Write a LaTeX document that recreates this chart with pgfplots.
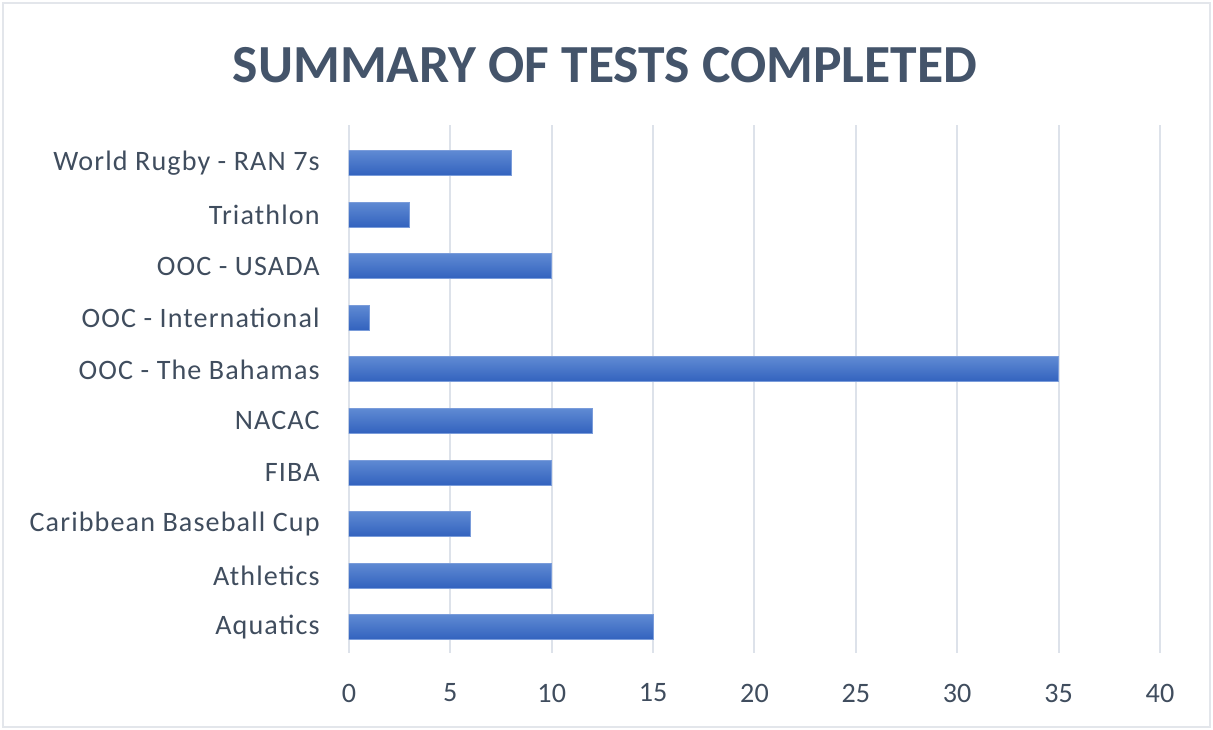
\documentclass[border=0pt]{standalone}
\usepackage{pgfplots}
\pgfplotsset{compat=1.18}
\usepackage{fontspec}
\setmainfont{Carlito}
\newfontfamily\labfont[LetterSpace=4]{Carlito}
\definecolor{titlecol}{HTML}{44546A}
\definecolor{labcol}{HTML}{404D5E}
\definecolor{gridcol}{HTML}{DDE2EA}
\definecolor{bartop}{HTML}{5F8AD3}
\definecolor{barbot}{HTML}{3262BE}
\definecolor{baredge}{HTML}{7A9CDA}
\definecolor{framecol}{HTML}{E3E6EB}
\tikzset{mybar/.style={top color=bartop, bottom color=barbot, draw=baredge, line width=0.2mm, bar shift=0pt}}
\begin{document}
\begin{tikzpicture}
\path (0,0) rectangle (242.6mm,146mm);
\draw[framecol, line width=0.3mm] (0.6mm,0.6mm) rectangle (242.0mm,145.4mm);
\node[text=titlecol, font=\fontsize{30.5}{36}\selectfont\bfseries] at (121mm,133mm) {SUMMARY OF TESTS COMPLETED};
\begin{axis}[
  at={(69.8mm,15.4mm)}, anchor=south west,
  scale only axis, width=162.2mm, height=105.6mm,
  xbar, bar width=5mm,
  xmin=0, xmax=40, xtick={0,5,...,40},
  ymin=-0.5, ymax=9.74,
  ytick={0,...,9},
  yticklabels={Aquatics, Athletics, Caribbean Baseball Cup, FIBA, NACAC, OOC - The Bahamas, OOC - International, OOC - USADA, Triathlon, World Rugby - RAN 7s},
  axis line style={draw=none},
  major tick length=0pt,
  xmajorgrids, major grid style={gridcol, line width=0.4mm},
  /pgf/number format/assume math mode=true,
  tick label style={text=labcol, font=\fontsize{16}{19}\selectfont},
  yticklabel style={anchor=east, inner sep=0pt, xshift=-5.8mm, font=\fontsize{16}{19}\selectfont\labfont},
  xticklabel style={anchor=north, inner sep=0pt, yshift=-6.1mm},
]
\addplot[mybar] coordinates {(15,0)};
\addplot[mybar] coordinates {(10,1)};
\addplot[mybar] coordinates {(6,2)};
\addplot[mybar] coordinates {(10,3)};
\addplot[mybar] coordinates {(12,4)};
\addplot[mybar] coordinates {(35,5)};
\addplot[mybar] coordinates {(1,6)};
\addplot[mybar] coordinates {(10,7)};
\addplot[mybar] coordinates {(3,8)};
\addplot[mybar] coordinates {(8,9)};
\end{axis}
\end{tikzpicture}
\end{document}
